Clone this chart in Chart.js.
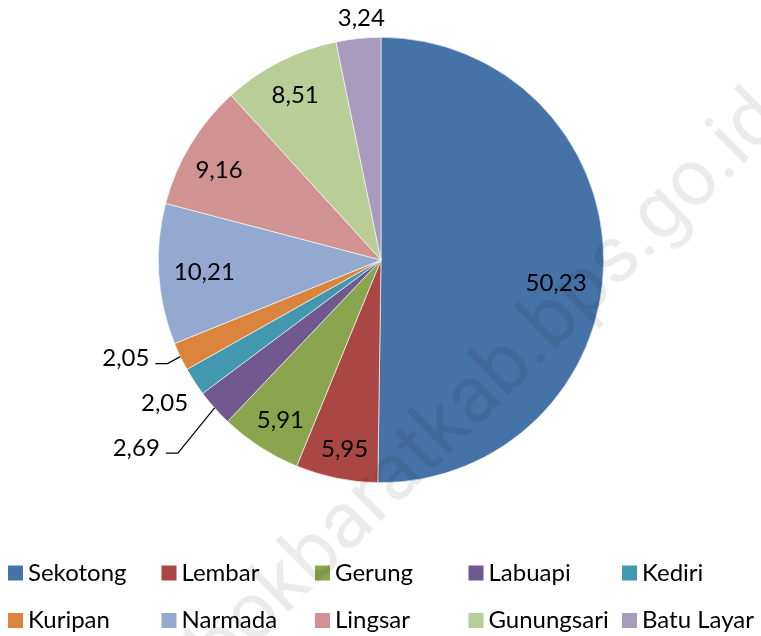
<!DOCTYPE html>
<html>
<head>
<meta charset="utf-8">
<script src="https://cdn.jsdelivr.net/npm/chart.js@4.4.1/dist/chart.umd.min.js"></script>
<style>
  body { margin: 0; background: #fff; }
  #wrap { width: 761px; height: 636px; position: relative; }
</style>
</head>
<body>
<div id="wrap"><canvas id="pieChart"></canvas></div>
<script>
// Persentase per kecamatan
const kecamatan = ['Sekotong', 'Lembar', 'Gerung', 'Labuapi', 'Kediri', 'Kuripan', 'Narmada', 'Lingsar', 'Gunungsari', 'Batu Layar'];
const persen = [50.23, 5.95, 5.91, 2.69, 2.05, 2.05, 10.21, 9.16, 8.51, 3.24];
const warna = ['#4572A7', '#AA4643', '#89A54E', '#71588F', '#4198AF', '#DB843D', '#93A9CF', '#D19392', '#B9CD96', '#A99BBD'];

const FONT = 'Lato, "Open Sans", sans-serif';

// posisi label: rf = fraksi radius, dx/dy = geser, leader = garis penunjuk
const labelPos = [
    { rf: 0.84, dx: -12, dy: 22 },
    { rf: 0.84, dx: 1, dy: 6 },
    { rf: 0.84, dx: 1, dy: 3 },
    { rf: 1.38, dx: -15, dy: -16, leader: true },
    { rf: 1.16, dx: 0, dy: 2 },
    { rf: 1.227, dx: -9, dy: -20, leader: true },
    { rf: 0.84, dx: 10, dy: 0 },
    { rf: 0.84, dx: -2, dy: 7 },
    { rf: 0.84, dx: -1, dy: 2 },
    { rf: 1.09, dx: 5, dy: 0 }
];

const fmt = v => v.toFixed(2).replace('.', ',');

const labelPlugin = {
    id: 'labelPlugin',
    afterDatasetsDraw(chart) {
        const ctx = chart.ctx;
        const meta = chart.getDatasetMeta(0);
        ctx.save();
        ctx.font = '24px ' + FONT;
        ctx.fillStyle = '#000';
        ctx.textBaseline = 'middle';
        ctx.textAlign = 'center';
        meta.data.forEach((arc, i) => {
            const p = arc.getProps(['x', 'y', 'startAngle', 'endAngle', 'outerRadius'], true);
            const mid = (p.startAngle + p.endAngle) / 2;
            const cx = Math.cos(mid), cy = Math.sin(mid);
            const pos = labelPos[i];
            const tx = p.x + cx * p.outerRadius * pos.rf + pos.dx;
            const ty = p.y + cy * p.outerRadius * pos.rf + pos.dy;
            const txt = fmt(persen[i]);
            ctx.fillText(txt, tx, ty);
            if (pos.leader) {
                const w = ctx.measureText(txt).width;
                const ex = tx + w / 2 + 6, ey = ty + 5;
                ctx.beginPath();
                ctx.strokeStyle = '#000';
                ctx.lineWidth = 1.2;
                ctx.moveTo(ex, ey);
                ctx.lineTo(ex + 12, ey);
                ctx.lineTo(p.x + cx * p.outerRadius, p.y + cy * p.outerRadius);
                ctx.stroke();
            }
        });
        ctx.restore();
    },
    afterDraw(chart) {
        const ctx = chart.ctx;
        ctx.save();
        // legenda 2 baris x 5 kolom
        ctx.font = '24px ' + FONT;
        ctx.textBaseline = 'middle';
        ctx.textAlign = 'left';
        kecamatan.forEach((k, i) => {
            const col = i % 5, row = Math.floor(i / 5);
            const x = 8 + col * 153.5;
            const y = 573 + row * 47.5;
            ctx.fillStyle = warna[i];
            ctx.fillRect(x, y - 7.5, 15, 15);
            ctx.fillStyle = '#000';
            ctx.fillText(k, x + 20, y);
        });
        // watermark
        const wm = 'lombokbaratkab.bps.go.id';
        const ang = -44.6 * Math.PI / 180;
        ctx.font = '80px Roboto, sans-serif';
        const pre = ctx.measureText('lombokbaratkab.bps.go.').width - ctx.measureText('.').width / 2;
        const sx = 732 - Math.cos(ang) * pre, sy = 175 - Math.sin(ang) * pre;
        ctx.translate(sx, sy);
        ctx.rotate(ang);
        ctx.textAlign = 'left';
        ctx.textBaseline = 'alphabetic';
        ctx.fillStyle = 'rgba(0,0,0,0.08)';
        ctx.fillText(wm, 0, 0);
        ctx.restore();
    }
};

new Chart(document.getElementById('pieChart'), {
    type: 'pie',
    data: {
        labels: kecamatan,
        datasets: [{
            data: persen,
            backgroundColor: warna,
            borderColor: '#fff',
            borderWidth: 0.6
        }]
    },
    options: {
        responsive: true,
        maintainAspectRatio: false,
        animation: false,
        layout: {
            padding: { left: 158, right: 157, top: 37, bottom: 153 }
        },
        plugins: {
            legend: { display: false },
            tooltip: { enabled: false }
        }
    },
    plugins: [labelPlugin]
});
</script>
</body>
</html>
